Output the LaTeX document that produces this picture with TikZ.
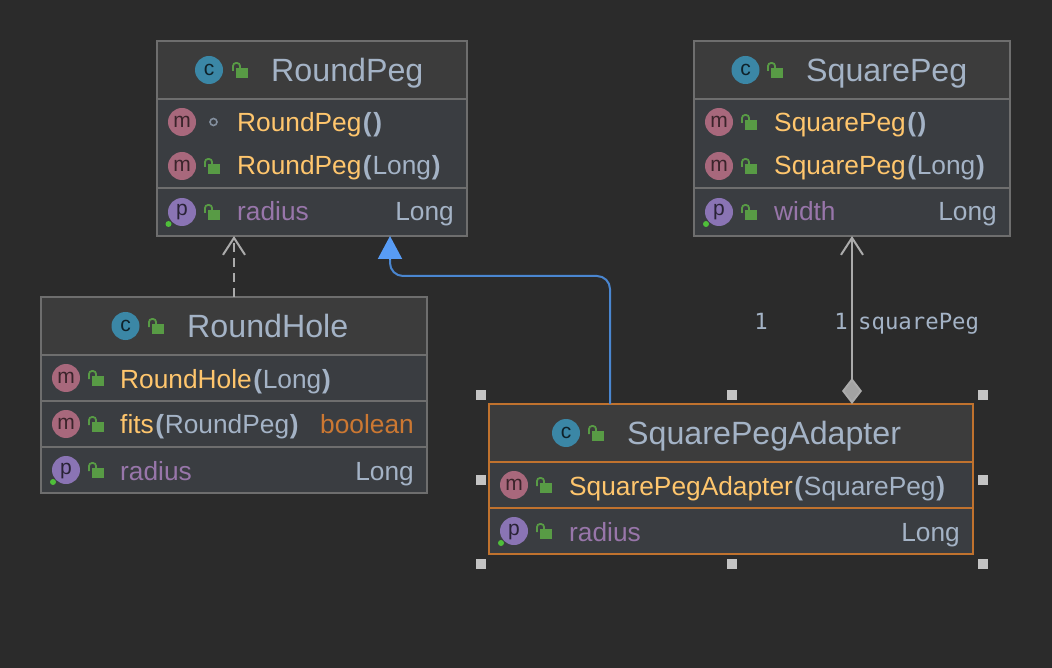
\documentclass[tikz,border=0pt]{standalone}
\usepackage{fontspec}
\setmainfont{Liberation Sans}
\newfontfamily\labelfont{DejaVu Sans Mono}
\usetikzlibrary{arrows.meta}
\definecolor{canvas}{HTML}{2B2B2B}
\definecolor{headfill}{HTML}{3C3C3C}
\definecolor{bodyfill}{HTML}{3A3D41}
\definecolor{edgegray}{HTML}{6E6E6E}
\definecolor{edgeorange}{HTML}{C0722E}
\definecolor{textgray}{HTML}{A4B3C6}
\definecolor{methodyellow}{HTML}{FFC66D}
\definecolor{fieldpurple}{HTML}{9876AA}
\definecolor{typeorange}{HTML}{CC7832}
\definecolor{badgeteal}{HTML}{3B87A6}
\definecolor{badgerose}{HTML}{A8687C}
\definecolor{badgeviolet}{HTML}{8A74B4}
\definecolor{lockgreen}{HTML}{589B45}
\definecolor{dotgreen}{HTML}{4FBF3A}
\definecolor{linkblue}{HTML}{4A86D0}
\definecolor{tipblue}{HTML}{589CF5}
\definecolor{linkgray}{HTML}{ABABAB}
\definecolor{handlegray}{HTML}{C4C4C4}
\newcommand{\parL}{\kern1.5pt{\bfseries\color{textgray}(}\kern.8pt}
\newcommand{\parR}{\kern.8pt{\bfseries\color{textgray})}}
\tikzset{
  classbox/.style={draw=edgegray, fill=bodyfill, line width=1.6pt, inner sep=0pt, outer sep=0pt, anchor=north west},
  headbox/.style={fill=headfill, inner sep=0pt, outer sep=0pt, anchor=north west},
  divider/.style={draw=edgegray, line width=2pt},
  selected/.style={draw=edgeorange},
  titletext/.style={anchor=base west, inner sep=0pt, text=textgray, font=\fontsize{32.2}{36}\selectfont},
  methodtext/.style={anchor=base west, inner sep=0pt, text=methodyellow, font=\fontsize{26.3}{30}\selectfont},
  fieldtext/.style={anchor=base west, inner sep=0pt, text=fieldpurple, font=\fontsize{26.3}{30}\selectfont},
  typetext/.style={anchor=base east, inner sep=0pt, text=textgray, font=\fontsize{26.3}{30}\selectfont},
  badge/.style={circle, minimum size=28pt, inner sep=0pt, text height=11pt, text depth=0pt, font=\fontsize{21}{21}\selectfont},
  badgec/.style={badge, fill=badgeteal, text=black!75!badgeteal},
  badgem/.style={badge, fill=badgerose, text=black!65!badgerose},
  badgep/.style={badge, fill=badgeviolet, text=black!70!badgeviolet, text height=13pt, text depth=5pt},
  statedot/.style={circle, fill=dotgreen, minimum size=6pt, inner sep=0pt},
  handle/.style={fill=handlegray, minimum size=10pt, inner sep=0pt},
  linklabel/.style={anchor=base, inner sep=0pt, text=textgray, font=\labelfont\fontsize{22.3}{26}\selectfont},
  lockicon/.pic={
    \fill[lockgreen] (-4,-2) rectangle (8,8);
    \draw[lockgreen, line width=1.8pt, rounded corners=3pt] (-7,1) -- (-7,-7) -- (0,-7) -- (0,-2);
  }
}
\begin{document}
\begin{tikzpicture}[x=1pt, y=-1pt]
  \useasboundingbox[fill=canvas] (0,0) rectangle (1052,668);

  % RoundPeg
  \node[classbox, minimum width=310pt, minimum height=195pt] (roundpeg) at (157,41) {};
  \node[headbox, minimum width=308pt, minimum height=57pt] (roundpeghead) at (158,42) {};
  \draw[divider] (roundpeghead.south west) -- (roundpeghead.south east);
  \coordinate (roundpegsplit) at (158,188);
  \draw[divider] (roundpegsplit) -- (roundpegsplit -| roundpeghead.east);
  \node[badgec] (rpclass) at (209,70) {c};
  \pic at (240,70) {lockicon};
  \node[titletext] (rptitle) at (271,82) {RoundPeg};
  \node[badgem] (rpm1) at (182,122) {m};
  \node[circle, draw=textgray!80!black, line width=1.6pt, minimum size=7pt, inner sep=0pt] (rpdot) at (213.5,122) {};
  \node[methodtext] (rpctor1) at (237,131.5) {RoundPeg\parL\parR};
  \node[badgem] (rpm2) at (182,166) {m};
  \pic at (212,166) {lockicon};
  \node[methodtext] (rpctor2) at (237,175) {RoundPeg\parL{\color{textgray}Long}\parR};
  \node[badgep] (rpp) at (182,212) {p};
  \node[statedot] (rpstate) at (168.5,224) {};
  \pic at (212,212) {lockicon};
  \node[fieldtext] (rpfield) at (237,221) {radius};
  \node[typetext] (rptype) at (454,221) {Long};

  % SquarePeg
  \node[classbox, minimum width=316pt, minimum height=195pt] (squarepeg) at (694,41) {};
  \node[headbox, minimum width=314pt, minimum height=57pt] (squarepeghead) at (695,42) {};
  \draw[divider] (squarepeghead.south west) -- (squarepeghead.south east);
  \coordinate (squarepegsplit) at (695,188);
  \draw[divider] (squarepegsplit) -- (squarepegsplit -| squarepeghead.east);
  \node[badgec] (spclass) at (745.5,70) {c};
  \pic at (775,70) {lockicon};
  \node[titletext] (sptitle) at (806,82) {SquarePeg};
  \node[badgem] (spm1) at (719,122) {m};
  \pic at (749,122) {lockicon};
  \node[methodtext] (spctor1) at (774,131.5) {SquarePeg\parL\parR};
  \node[badgem] (spm2) at (719,166) {m};
  \pic at (749,166) {lockicon};
  \node[methodtext] (spctor2) at (774,175) {SquarePeg\parL{\color{textgray}Long}\parR};
  \node[badgep] (spp) at (719,212) {p};
  \node[statedot] (spstate) at (706,224) {};
  \pic at (749,212) {lockicon};
  \node[fieldtext] (spfield) at (774,221) {width};
  \node[typetext] (sptype) at (997,221) {Long};

  % RoundHole
  \node[classbox, minimum width=386pt, minimum height=196pt] (roundhole) at (41,297) {};
  \node[headbox, minimum width=384pt, minimum height=57pt] (roundholehead) at (42,298) {};
  \draw[divider] (roundholehead.south west) -- (roundholehead.south east);
  \coordinate (roundholesplita) at (42,401);
  \coordinate (roundholesplitb) at (42,447);
  \draw[divider] (roundholesplita) -- (roundholesplita -| roundholehead.east);
  \draw[divider] (roundholesplitb) -- (roundholesplitb -| roundholehead.east);
  \node[badgec] (rhclass) at (125.5,326) {c};
  \pic at (156,326) {lockicon};
  \node[titletext] (rhtitle) at (187,337.5) {RoundHole};
  \node[badgem] (rhm1) at (66,378) {m};
  \pic at (96,378) {lockicon};
  \node[methodtext] (rhctor) at (120,388) {RoundHole\parL{\color{textgray}Long}\parR};
  \node[badgem] (rhm2) at (66,424) {m};
  \pic at (96,424) {lockicon};
  \node[methodtext] (rhfits) at (120,433.5) {fits\parL{\color{textgray}RoundPeg}\parR};
  \node[typetext, text=typeorange] (rhret) at (414,433.5) {boolean};
  \node[badgep] (rhp) at (66,470) {p};
  \node[statedot] (rhstate) at (53,482) {};
  \pic at (96,470) {lockicon};
  \node[fieldtext] (rhfield) at (120,480) {radius};
  \node[typetext] (rhtype) at (414,480) {Long};

  % SquarePegAdapter
  \node[classbox, selected, minimum width=484pt, minimum height=150pt] (adapter) at (489,404) {};
  \node[headbox, minimum width=482pt, minimum height=57pt] (adapterhead) at (490,405) {};
  \draw[divider, selected] (adapterhead.south west) -- (adapterhead.south east);
  \coordinate (adaptersplit) at (490,508);
  \draw[divider, selected] (adaptersplit) -- (adaptersplit -| adapterhead.east);
  \node[badgec] (saclass) at (566,433) {c};
  \pic at (596,433) {lockicon};
  \node[titletext] (satitle) at (627,444) {SquarePegAdapter};
  \node[badgem] (sam) at (514,485) {m};
  \pic at (544,485) {lockicon};
  \node[methodtext] (sactor) at (569,495) {SquarePegAdapter\parL{\color{textgray}SquarePeg}\parR};
  \node[badgep] (sap) at (514,531) {p};
  \node[statedot] (sastate) at (501,543) {};
  \pic at (544,531) {lockicon};
  \node[fieldtext] (safield) at (569,541) {radius};
  \node[typetext] (satype) at (960,541) {Long};

  \foreach \hx in {481,732,983} {
    \foreach \hy in {395,564} {
      \node[handle] (h\hx\hy) at (\hx,\hy) {};
    }
  }
  \node[handle] (hleft) at (481,480) {};
  \node[handle] (hright) at (983,480) {};

  \draw[linkgray, line width=2pt, dash pattern=on 9pt off 6pt, -{Straight Barb[length=17pt, width=22pt, line width=2pt]}] (roundhole.north) -- (roundhole.north |- roundpeg.south);

  \coordinate (bendup) at (610,276);
  \coordinate (bendleft) at (390,276);
  \draw[linkblue, line width=2pt, rounded corners=13pt] (bendup |- adapter.north) -- (bendup) -- (bendleft) -- (390,258);
  \coordinate (tipbase) at (390,260);
  \draw[tipblue, line width=2pt, -{Triangle[length=23pt, width=24pt]}] (tipbase) -- (tipbase |- roundpeg.south);

  \draw[linkgray, line width=2pt, {Diamond[length=26pt, width=20pt, fill=linkgray!110]}-{Straight Barb[length=17pt, width=22pt, line width=2pt]}] (squarepeg.south |- adapter.north) -- (squarepeg.south);

  \node[linklabel] (sourcecount) at (761,329) {1};
  \node[linklabel] (targetcount) at (841,329) {1};
  \node[linklabel, anchor=base west] (rolelabel) at (858,329) {squarePeg};
\end{tikzpicture}
\end{document}
